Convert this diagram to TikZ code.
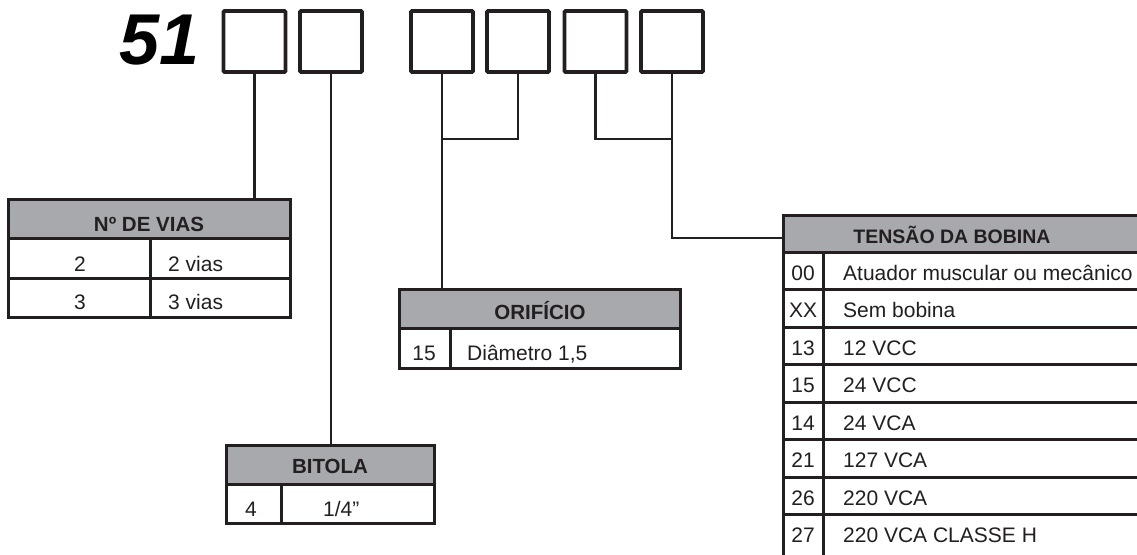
\documentclass[tikz,border=0pt]{standalone}
\usepackage{fontspec}
\setmainfont{Liberation Sans}
\definecolor{lc}{HTML}{231F20}
\definecolor{hg}{HTML}{A7A9AC}
\tikzset{
  digitbox/.style={draw=lc, line width=3.8pt, minimum width=62pt, minimum height=61pt, inner sep=0pt, outer sep=0pt, rounded corners=1pt},
  hdr/.style={draw=lc, fill=hg, line width=3pt, anchor=north west, inner sep=0pt, outer sep=0pt},
  cellbox/.style={draw=lc, line width=3pt, anchor=north west, inner sep=0pt, outer sep=0pt},
  conn/.style={draw=lc, line width=2.5pt},
  hdrtxt/.style={font=\fontsize{20.5}{24}\selectfont\bfseries, text=lc, inner sep=0pt, anchor=base},
  celltxt/.style={font=\fontsize{21}{24}\selectfont, text=lc, inner sep=0pt, anchor=base},
  celltxtl/.style={font=\fontsize{21}{24}\selectfont, text=lc, inner sep=0pt, anchor=base west},
}
\begin{document}
\begin{tikzpicture}[x=1pt,y=-1pt]
\clip (0,0) rectangle (1137,554);
\fill[white] (0,0) rectangle (1137,554);
% prefix
\node[font=\fontsize{72}{80}\selectfont\bfseries\itshape, text=black, inner sep=0pt, anchor=base] (pre) at (160,64) {51};
% code boxes
\node[digitbox] (b1) at (254.5,41.5) {};
\node[digitbox] (b2) at (331,41.5) {};
\node[digitbox] (b3) at (442,41.5) {};
\node[digitbox] (b4) at (518,41.5) {};
\node[digitbox] (b5) at (595.5,41.5) {};
\node[digitbox] (b6) at (672,41.5) {};
% N DE VIAS
\node[hdr, minimum width=282pt, minimum height=39pt] (viasH) at (8,199) {};
\node[cellbox, minimum width=142pt, minimum height=40pt] (v1a) at (8,238) {};
\node[cellbox, minimum width=140pt, minimum height=40pt] (v1b) at (150,238) {};
\node[cellbox, minimum width=142pt, minimum height=39pt] (v2a) at (8,278) {};
\node[cellbox, minimum width=140pt, minimum height=39pt] (v2b) at (150,278) {};
\node[hdrtxt] (viasT) at (149,231) {Nº DE VIAS};
\node[celltxt] (v1at) at (80,271) {2};
\node[celltxtl] (v1bt) at (168,271) {2 vias};
\node[celltxt] (v2at) at (80,309) {3};
\node[celltxtl] (v2bt) at (168,309) {3 vias};
% BITOLA
\node[hdr, minimum width=208pt, minimum height=39pt] (bitH) at (226,445) {};
\node[cellbox, minimum width=55pt, minimum height=39pt] (bta) at (226,484) {};
\node[cellbox, minimum width=153pt, minimum height=39pt] (btb) at (281,484) {};
\node[hdrtxt] (bitT) at (330,473) {BITOLA};
\node[celltxt] (btat) at (251,516) {4};
\node[celltxtl] (btbt) at (323,516) {1/4\symbol{34}};
% ORIFICIO
\node[hdr, minimum width=281pt, minimum height=39pt] (oriH) at (399,289) {};
\node[cellbox, minimum width=51pt, minimum height=40pt] (ora) at (399,328) {};
\node[cellbox, minimum width=230pt, minimum height=40pt] (orb) at (450,328) {};
\node[hdrtxt] (oriT) at (540,319) {ORIFÍCIO};
\node[celltxt] (orat) at (424,360) {15};
\node[celltxtl] (orbt) at (467,360) {Diâmetro 1,5};
% TENSAO DA BOBINA
\node[hdr, minimum width=420pt, minimum height=37pt] (tenH) at (783,215) {};
\node[hdrtxt, font=\fontsize{19.5}{24}\selectfont\bfseries] (tenT) at (952,243) {TENSÃO DA BOBINA};
\foreach \i/\c/\d/\h in {0/00/Atuador muscular ou mecânico/37.5, 1/XX/Sem bobina/37.5, 2/13/12 VCC/37.5, 3/15/24 VCC/37.5, 4/14/24 VCA/37.5, 5/21/127 VCA/37.5, 6/26/220 VCA/37.5, 7/27/220 VCA CLASSE H/70}{
  \pgfmathsetmacro{\yy}{252+37.5*\i}
  \node[cellbox, minimum width=40pt, minimum height=\h pt] (ta\i) at (783,\yy) {};
  \node[cellbox, minimum width=380pt, minimum height=\h pt] (tb\i) at (823,\yy) {};
  \node[celltxt] (tat\i) at (803,\yy+28) {\c};
  \node[celltxtl] (tbt\i) at (843,\yy+28) {\d};
}
% connectors
\coordinate (j1) at (442,139);
\coordinate (j2) at (672,139);
\coordinate (j3) at (783,238);
\draw[conn] (b1.south) -- (b1.south |- viasH.north);
\draw[conn] (b2.south) -- (b2.south |- bitH.north);
\draw[conn] (b3.south) -- (b3.south |- oriH.north);
\draw[conn] (b4.south) |- (j1);
\draw[conn] (b5.south) |- (j2);
\draw[conn] (b6.south) |- (j3);
\end{tikzpicture}
\end{document}
